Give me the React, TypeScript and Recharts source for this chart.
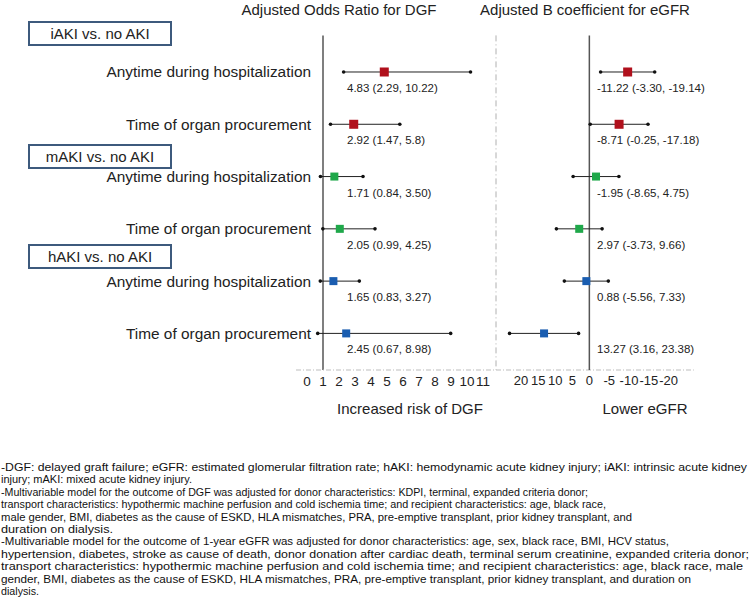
import { ScatterChart, Scatter, XAxis, YAxis, ErrorBar, ReferenceLine } from 'recharts';

const groupNames = ['iAKI vs. no AKI', 'mAKI vs. no AKI', 'hAKI vs. no AKI'];
const timingNames = ['Anytime during hospitalization', 'Time of organ procurement'];
const groupColors = ['#b0101c', '#1fa84a', '#1a5db0'];
const rowIdx = [0, 1, 2, 3, 4, 5];

const dgfOdds = [4.83, 2.92, 1.71, 2.05, 1.65, 2.45];
const dgfLower = [2.29, 1.47, 0.84, 0.99, 0.83, 0.67];
const dgfUpper = [10.22, 5.8, 3.5, 4.25, 3.27, 8.98];
const dgfText = [
  '4.83 (2.29, 10.22)',
  '2.92 (1.47, 5.8)',
  '1.71 (0.84, 3.50)',
  '2.05 (0.99, 4.25)',
  '1.65 (0.83, 3.27)',
  '2.45 (0.67, 8.98)',
];

const egfrBeta = [-11.22, -8.71, -1.95, 2.97, 0.88, 13.27];
const egfrCiA = [-3.3, -0.25, -8.65, -3.73, -5.56, 3.16];
const egfrCiB = [-19.14, -17.18, 4.75, 9.66, 7.33, 23.38];
const egfrText = [
  '-11.22 (-3.30, -19.14)',
  '-8.71 (-0.25, -17.18)',
  '-1.95 (-8.65, 4.75)',
  '2.97 (-3.73, 9.66)',
  '0.88 (-5.56, 7.33)',
  '13.27 (3.16, 23.38)',
];

const dgfTicks = [0, 1, 2, 3, 4, 5, 6, 7, 8, 9, 10, 11];
const egfrTicks = [20, 15, 10, 5, 0, -5, -10, -15, -20];

const footnotes = [
  '-DGF: delayed graft failure; eGFR: estimated glomerular filtration rate; hAKI: hemodynamic acute kidney injury; iAKI: intrinsic acute kidney',
  'injury; mAKI: mixed acute kidney injury.',
  '-Multivariable model for the outcome of DGF was adjusted for donor characteristics: KDPI, terminal, expanded criteria donor;',
  'transport characteristics: hypothermic machine perfusion and cold ischemia time; and recipient characteristics: age, black race,',
  'male gender, BMI, diabetes as the cause of ESKD, HLA mismatches, PRA, pre-emptive transplant, prior kidney transplant, and',
  'duration on dialysis.',
  '-Multivariable model for the outcome of 1-year eGFR was adjusted for donor characteristics: age, sex, black race, BMI, HCV status,',
  'hypertension, diabetes, stroke as cause of death, donor donation after cardiac death, terminal serum creatinine, expanded criteria donor;',
  'transport characteristics: hypothermic machine perfusion and cold ischemia time; and recipient characteristics: age, black race, male',
  'gender, BMI, diabetes as the cause of ESKD, HLA mismatches, PRA, pre-emptive transplant, prior kidney transplant, and duration on',
  'dialysis.',
];
// rendered line widths in px
const footnoteWidths = [746, 191, 587, 605, 631, 112, 668, 748, 742, 690, 38];

function buildRows(est: number[], a: number[], b: number[], text: string[]) {
  return est.map((v, i) => {
    const lo = Math.min(a[i], b[i]);
    const hi = Math.max(a[i], b[i]);
    return { row: i, x: v, err: [v - lo, hi - v], label: text[i], color: groupColors[Math.floor(i / 2)] };
  });
}

function buildEnds(a: number[], b: number[]) {
  return a.flatMap((v, i) => [{ row: i, x: v }, { row: i, x: b[i] }]);
}

const dgfRows = buildRows(dgfOdds, dgfLower, dgfUpper, dgfText);
const dgfEnds = buildEnds(dgfLower, dgfUpper);
const egfrRows = buildRows(egfrBeta, egfrCiA, egfrCiB, egfrText);
const egfrEnds = buildEnds(egfrCiA, egfrCiB);

const TEXT = '#222';
const W = 750;
const H = 440;
const axisDash = { stroke: '#bdbdbd', strokeDasharray: '5 2 1 2', strokeWidth: 1.2 };

const endDot = (p: any) => <circle cx={p.cx} cy={p.cy} r={1.8} fill="#111" />;

const markWithLabel = (labelX: number) => (p: any) => {
  const s = p.payload.color === groupColors[0] ? 9 : 8;
  return (
    <g>
      <rect x={p.cx - s / 2} y={p.cy - s / 2} width={s} height={s} fill={p.payload.color} />
      <text x={labelX} y={p.cy + 20} fontSize={11.5} fill={TEXT}>{p.payload.label}</text>
    </g>
  );
};

const rowTick = (p: any) => (
  <text x={p.x + 15} y={p.y} dy="0.35em" textAnchor="end" fontSize={15.4} fill={TEXT}>
    {timingNames[p.payload.value % 2]}
  </text>
);

// the reference spreads the negative tick labels a little wider
const egfrTick = (p: any) => {
  const v = p.payload.value;
  const x = v < 0 ? p.x - v * 0.55 : p.x;
  return (
    <text x={x} y={p.y} dy="0.71em" textAnchor="middle" fontSize={13} fill={TEXT}>{v}</text>
  );
};

const abs = (left: number, top: number, extra: any = {}) => ({ position: 'absolute' as const, left, top, ...extra });

export default function App() {
  return (
    <div style={abs(0, 0, { width: W, height: 606, overflow: 'hidden', background: '#fff', fontFamily: '"Liberation Sans", Arial, sans-serif', color: TEXT })}>
      <div style={abs(0, 0)}>
        <ScatterChart width={W} height={H} margin={{ top: 35.4, right: 254, bottom: 40, left: 6 }}>
          <XAxis type="number" dataKey="x" domain={[-0.6875, 11.8125]} allowDataOverflow ticks={dgfTicks} interval={0}
            height={30} tickLine={false} tickSize={4} tickMargin={2} axisLine={axisDash} tick={{ fill: TEXT, fontSize: 13.5 }} />
          <YAxis type="number" dataKey="row" domain={[-0.7, 5.7]} reversed allowDataOverflow ticks={rowIdx} interval={0}
            width={290} axisLine={false} tickLine={false} tickSize={0} tickMargin={0} tick={rowTick} />
          <ReferenceLine x={1} stroke="#555" strokeWidth={1.5} />
          <Scatter data={dgfEnds} shape={endDot} isAnimationActive={false} />
          <Scatter data={dgfRows} shape={markWithLabel(347)} isAnimationActive={false}>
            <ErrorBar dataKey="err" direction="x" width={0} stroke="#222" strokeWidth={1} />
          </Scatter>
        </ScatterChart>
      </div>
      <div style={abs(0, 0)}>
        <ScatterChart width={W} height={H} margin={{ top: 35.4, right: 1, bottom: 40, left: 495 }}>
          <XAxis type="number" dataKey="x" domain={[-46.77, 27.35]} reversed allowDataOverflow ticks={egfrTicks} interval={0}
            height={30} tickLine={false} tickSize={4} tickMargin={2} axisLine={false} tick={egfrTick} />
          <YAxis type="number" dataKey="row" domain={[-0.7, 5.7]} reversed allowDataOverflow width={1}
            tick={false} tickLine={false} axisLine={{ stroke: '#b0b0b0', strokeDasharray: '6 3 1 3' }} />
          <ReferenceLine segment={[{ x: 27.35, y: 5.7 }, { x: -30.6, y: 5.7 }]} {...axisDash} />
          <ReferenceLine x={0} stroke="#555" strokeWidth={1.5} />
          <Scatter data={egfrEnds} shape={endDot} isAnimationActive={false} />
          <Scatter data={egfrRows} shape={markWithLabel(597)} isAnimationActive={false}>
            <ErrorBar dataKey="err" direction="x" width={0} stroke="#222" strokeWidth={1} />
          </Scatter>
        </ScatterChart>
      </div>

      <div style={abs(339, 1, { transform: 'translateX(-50%)', fontSize: 15, lineHeight: '18px', whiteSpace: 'nowrap' })}>Adjusted Odds Ratio for DGF</div>
      <div style={abs(585, 1, { transform: 'translateX(-50%)', fontSize: 15, lineHeight: '18px', whiteSpace: 'nowrap' })}>Adjusted B coefficient for eGFR</div>
      <div style={abs(410, 400, { transform: 'translateX(-50%)', fontSize: 15, lineHeight: '18px', whiteSpace: 'nowrap' })}>Increased risk of DGF</div>
      <div style={abs(645, 400, { transform: 'translateX(-50%)', fontSize: 15, lineHeight: '18px', whiteSpace: 'nowrap' })}>Lower eGFR</div>

      {groupNames.map((g, i) => (
        <div key={g} style={abs(28, [21, 144, 244][i], {
          width: 144, height: 25, boxSizing: 'border-box', border: '2px solid #3d5a7d',
          fontSize: 15, lineHeight: '21px', textAlign: 'center', whiteSpace: 'nowrap',
        })}>{g}</div>
      ))}

      <svg width={W} height={148} style={abs(0, 458)}>
        {footnotes.map((t, i) => (
          <text key={i} x={1} y={13 + i * 12.4} fontSize={11.6} fill="#111"
            textLength={footnoteWidths[i]} lengthAdjust="spacingAndGlyphs">{t}</text>
        ))}
      </svg>
    </div>
  );
}
